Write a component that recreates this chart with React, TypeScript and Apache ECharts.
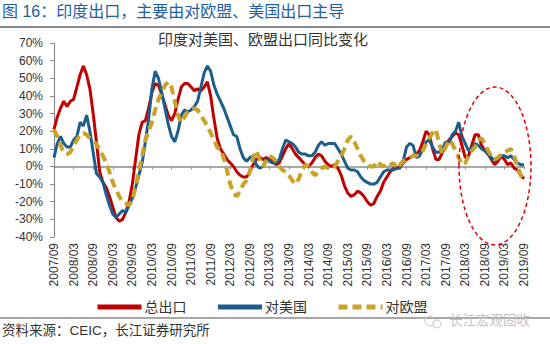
import React, { useEffect, useRef } from "react";
import * as echarts from "echarts";

// Monthly categories 2007/09 .. 2019/09
const categories: string[] = [];
for (let y = 2007, m = 9; y < 2019 || (y === 2019 && m <= 9); ) {
  categories.push(`${y}/${String(m).padStart(2, "0")}`);
  m++;
  if (m > 12) { m = 1; y++; }
}

const totalExports = [
  21, 28, 33, 37, 34, 37, 38, 45, 52, 57, 52, 44,
  30, 14, -3, -9, -12, -17, -23, -29, -31, -30, -26, -20,
  -10, 4, 18, 25, 26, 33, 42, 47, 46, 41, 35, 29,
  26, 30, 38, 45, 47, 47, 45, 43, 44, 43, 45, 48,
  40, 27, 16, 10, 7, 4, 2, 0, -3, -5, -6, -6,
  -3, 1, 4, 5, 4, 5, 4, 4, 1, 2, 6, 10,
  13, 10, 7, 5, 3, 1, 0, 2, 5, 7, 6, 3,
  1, 0, 1, -1, -5, -11, -15, -17, -16, -14, -15, -17,
  -20, -22, -21, -17, -14, -9, -6, -3, -1, -1, 0, 2,
  4, 5, 6, 7, 9, 14, 20, 18, 10, 4, 4, 8,
  12, 15, 17, 19, 18, 12, 5, 6, 12, 18, 18, 12,
  9, 7, 4, 1, 3, 6, 4, 1, 2, -1, -2, -5,
  -7,
];

const toUS = [
  5, 13, 17, 13, 11, 11, 15, 17, 25, 23, 29, 20,
  8, -4, -6, -9, -16, -22, -27, -29, -27, -25, -26, -22,
  -18, -12, -5, 2, 14, 27, 44, 54, 50, 42, 33, 24,
  17, 14, 20, 29, 32, 31, 32, 34, 37, 45, 53, 57,
  54, 46, 41, 37, 33, 28, 23, 18, 17, 10, 5, 3,
  5, 6, 1, -1, 0, 4, 3, 2, 2, 4, 10, 15,
  14, 13, 11, 8, 7, 7, 6, 6, 8, 12, 14, 12,
  13, 13, 13, 10, 7, 3, -1, -2, -2, -3, -6, -8,
  -9, -10, -10, -9, -6, -3, -2, -2, -2, -1, -1, 3,
  11, 13, 12, 5, 6, 10, 14, 15, 11, 8, 8, 10,
  14, 13, 18, 20, 25, 17, 13, 9, 10, 13, 12, 10,
  9, 7, 5, 3, 5, 6, 6, 5, 6, 4, 2, 1,
  1,
];

const toEU = [
  21, 17, 12, 8, 7, 8, 12, 15, 18, 19, 18, 16,
  14, 13, 9, 6, 2, -3, -9, -13, -17, -20, -21, -22,
  -19, -12, -3, 6, 15, 20, 25, 32, 38, 42, 46, 48,
  45, 37, 29, 25, 28, 31, 32, 33, 32, 29, 26, 23,
  19, 15, 11, 9, 5, -2, -10, -15, -17, -14, -10, -8,
  -3, 5, 9, 4, 0, 3, 6, 5, 3, 0, -2, -3,
  -5, -8, -10, -7, -2, 1, 0, -3, -5, -3, -1, 0,
  -1, -1, 0, 3, 6, 10, 15, 17, 14, 10, 6, 3,
  1, 0, 0, 3, 1, 0, 2, 1, 2, -1, 1, 3,
  4, 5, 6, 6, 8, 9, 13, 16, 19, 21, 13, 7,
  11, 15, 13, 9, 5, 1, 2, 6, 9, 11, 15, 16,
  13, 9, 6, 4, 5, 7, 8, 9, 10, 6, 0, -5,
  -7,
];

const seriesNames = ["总出口", "对美国", "对欧盟"];
const yTicks = { min: -40, max: 70, interval: 10 };

const FONT = "'Liberation Sans', Arial, 'Noto Sans CJK SC', sans-serif";

export default function App() {
  const ref = useRef<HTMLDivElement>(null);
  useEffect(() => {
    if (!ref.current) return;
    document.body.style.margin = "0";
    const chart = echarts.init(ref.current, undefined, { renderer: "svg" });
    chart.setOption({
      animation: false,
      backgroundColor: "#ffffff",
      textStyle: { fontFamily: FONT },
      title: {
        text: "印度对美国、欧盟出口同比变化",
        left: 258,
        textAlign: "center",
        top: 27,
        textStyle: { fontSize: 15, fontWeight: "normal", color: "#333333", fontFamily: FONT },
      },
      legend: {
        left: 90,
        top: 295,
        itemWidth: 44,
        itemHeight: 14,
        itemGap: 29,
        data: seriesNames,
        itemStyle: { opacity: 0 },
        lineStyle: { width: 5 },
        textStyle: { fontSize: 14, color: "#333333", fontFamily: FONT, padding: [0, 0, 0, -2] },
      },
      grid: { left: 54, right: 26, top: 43, bottom: 107, containLabel: false },
      xAxis: [
        {
          type: "category",
          data: categories,
          boundaryGap: false,
          position: "bottom",
          axisLine: { show: false, onZero: false },
          axisTick: { show: false },
          axisLabel: {
            interval: 5,
            rotate: 90,
            margin: 6,
            fontSize: 12,
            color: "#333333",
            fontFamily: FONT,
          },
          splitLine: { show: false },
        },
        {
          type: "category",
          data: categories,
          boundaryGap: false,
          position: "bottom",
          axisLine: { show: true, onZero: true, lineStyle: { color: "#8c8c8c", width: 1.5 } },
          axisTick: { show: true, interval: 5, length: 3, lineStyle: { color: "#8c8c8c" } },
          axisLabel: { show: false },
          splitLine: { show: false },
        },
      ],
      yAxis: {
        type: "value",
        min: yTicks.min,
        max: yTicks.max,
        interval: yTicks.interval,
        axisLine: { show: true, lineStyle: { color: "#8c8c8c", width: 1.2 } },
        axisTick: { show: true, length: 4, lineStyle: { color: "#8c8c8c" } },
        axisLabel: { formatter: "{value}%", fontSize: 12, color: "#333333", margin: 11, fontFamily: FONT },
        splitLine: { show: false },
      },
      series: [
        {
          name: seriesNames[0],
          type: "line",
          data: totalExports,
          symbol: "none",
          showSymbol: false,
          lineStyle: { color: "#C00000", width: 3 },
          itemStyle: { color: "#C00000" },
        },
        {
          name: seriesNames[1],
          type: "line",
          data: toUS,
          symbol: "none",
          showSymbol: false,
          lineStyle: { color: "#1B5E8C", width: 3 },
          itemStyle: { color: "#1B5E8C" },
        },
        {
          name: seriesNames[2],
          type: "line",
          data: toEU,
          symbol: "none",
          showSymbol: false,
          lineStyle: { color: "#C9A227", width: 4, type: [9, 5] },
          itemStyle: { color: "#C9A227" },
        },
      ],
      graphic: [
        {
          type: "text",
          left: 2,
          top: 3,
          style: {
            text: "图 16：印度出口，主要由对欧盟、美国出口主导",
            fontSize: 16,
            fill: "#1F5EA5",
            fontFamily: FONT,
          },
        },
        {
          type: "line",
          shape: { x1: 0, y1: 27, x2: 550, y2: 27 },
          style: { stroke: "#8a8a8a", lineWidth: 2 },
        },
        {
          type: "line",
          shape: { x1: 0, y1: 318, x2: 550, y2: 318 },
          style: { stroke: "#8a8a8a", lineWidth: 1.5 },
        },
        {
          type: "text",
          left: 2,
          top: 324,
          style: {
            text: "资料来源：CEIC，长江证券研究所",
            fontSize: 13.5,
            fill: "#333333",
            fontFamily: FONT,
          },
        },
        {
          type: "ellipse",
          shape: { cx: 495, cy: 166, rx: 36, ry: 79 },
          style: { fill: "none", stroke: "#E00000", lineWidth: 1.5, lineDash: [4, 3] },
          z: 100,
        },
        {
          type: "circle",
          shape: { cx: 430, cy: 321, r: 5 },
          style: { fill: "none", stroke: "#c4c4c4", lineWidth: 1 },
        },
        {
          type: "circle",
          shape: { cx: 437, cy: 324, r: 4 },
          style: { fill: "#ffffff", stroke: "#c4c4c4", lineWidth: 1 },
        },
        {
          type: "text",
          left: 449,
          top: 314,
          style: {
            text: "长江宏观固收",
            fontSize: 13.5,
            fill: "#c4c4c4",
            fontFamily: FONT,
          },
        },
      ],
    });
    return () => chart.dispose();
  }, []);
  return <div ref={ref} style={{ width: 550, height: 344 }} />;
}
